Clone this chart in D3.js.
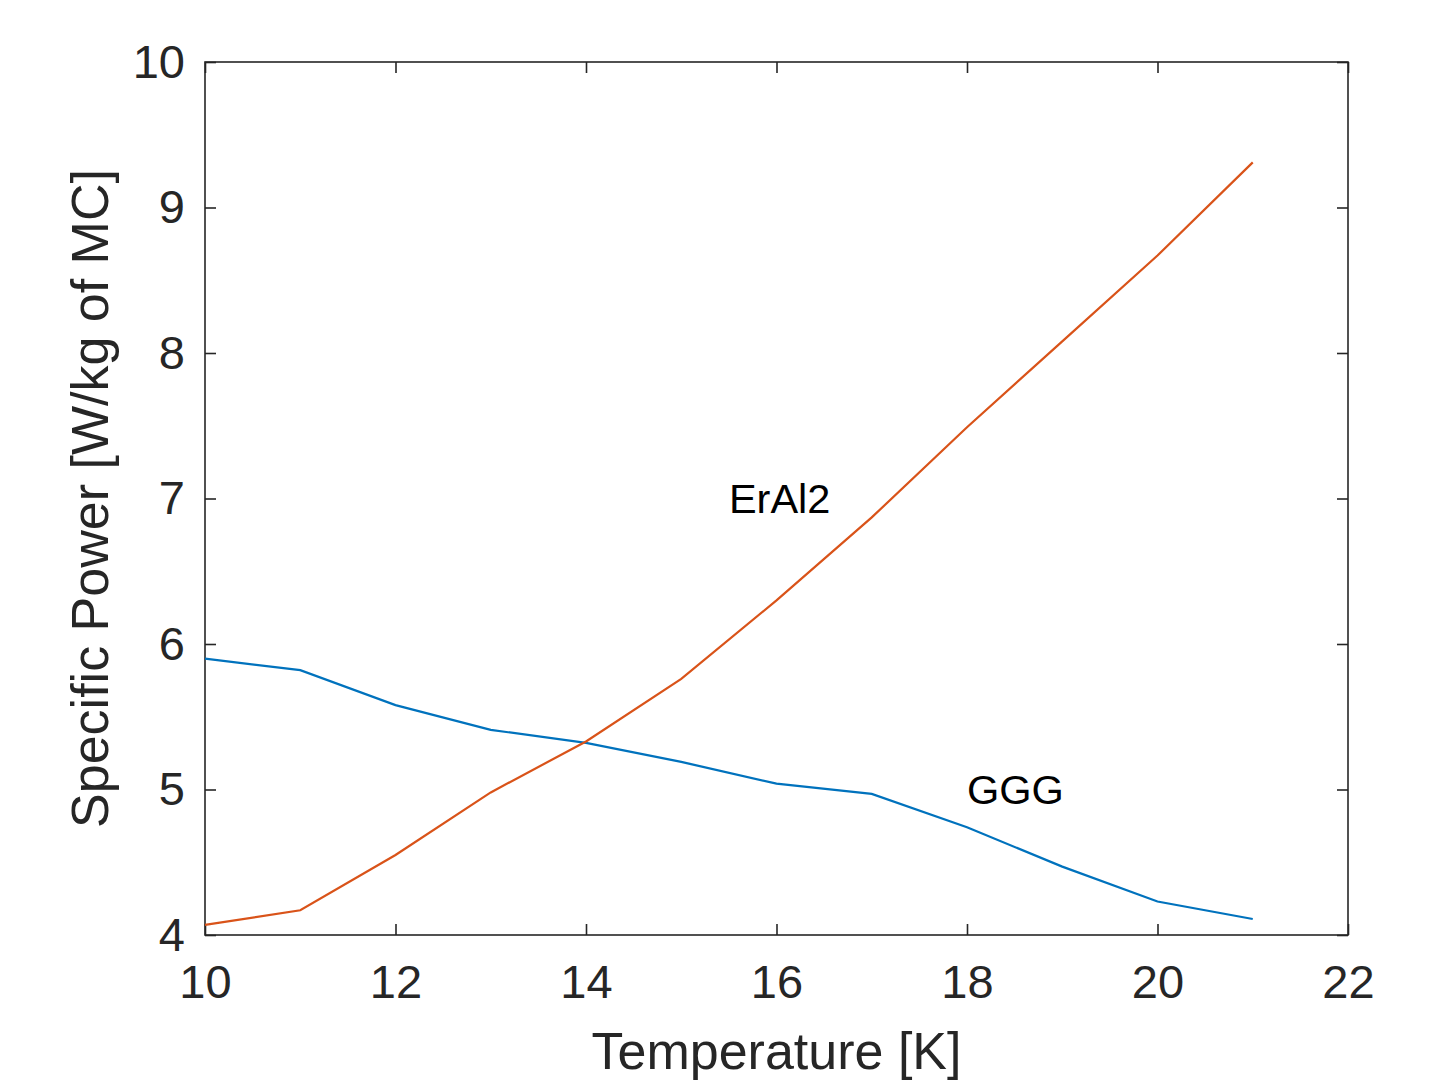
<!DOCTYPE html>
<html>
<head>
<meta charset="utf-8">
<script src="https://cdn.jsdelivr.net/npm/d3@7"></script>
<style>
  body { margin: 0; background: #fff; }
  text { font-family: "Liberation Sans", Arial, Helvetica, sans-serif; fill: #262626; }
</style>
</head>
<body>
<script>
// Data
var temperature = [10, 11, 12, 13, 14, 15, 16, 17, 18, 19, 20, 21];
var erAl2 = [4.07, 4.17, 4.55, 4.98, 5.33, 5.76, 6.30, 6.87, 7.49, 8.08, 8.67, 9.31];
var ggg = [5.90, 5.82, 5.58, 5.41, 5.32, 5.19, 5.04, 4.97, 4.74, 4.47, 4.23, 4.11];
var xTicks = [10, 12, 14, 16, 18, 20, 22];
var yTicks = [4, 5, 6, 7, 8, 9, 10];
var labelNames = ["ErAl2", "GGG"];
var labelX = [15.5, 18];
var labelY = [7, 5];

// Graph dimensions and margins
var margin = {top: 62, right: 97, bottom: 147, left: 205},
    width = 1445 - margin.left - margin.right,
    height = 1082 - margin.top - margin.bottom;

var x = d3.scaleLinear().domain([10, 22]).range([0, width]);
var y = d3.scaleLinear().domain([4, 10]).range([height, 0]);

var svg = d3.select("body").append("svg")
    .attr("width", 1445)
    .attr("height", 1082);

var chart = svg.append("g")
    .attr("transform", "translate(" + margin.left + "," + margin.top + ")");

var axisColor = "#262626";
var tickLen = 11;

// bottom axis with labels, inward ticks
var xAxis = chart.append("g")
    .attr("transform", "translate(0," + height + ")")
    .call(d3.axisBottom(x).tickValues(xTicks).tickSizeInner(-tickLen).tickSizeOuter(0).tickPadding(30).tickFormat(d3.format("d")));
// left axis
var yAxis = chart.append("g")
    .call(d3.axisLeft(y).tickValues(yTicks).tickSizeInner(-tickLen).tickSizeOuter(0).tickPadding(20).tickFormat(d3.format("d")));
// top and right mirror ticks
var xTop = chart.append("g")
    .call(d3.axisTop(x).tickValues(xTicks).tickSizeInner(-tickLen).tickSizeOuter(0).tickFormat(""));
var yRight = chart.append("g")
    .attr("transform", "translate(" + width + ",0)")
    .call(d3.axisRight(y).tickValues(yTicks).tickSizeInner(-tickLen).tickSizeOuter(0).tickFormat(""));

[xAxis, yAxis, xTop, yRight].forEach(function(a) {
  a.select(".domain").remove();
  a.selectAll("line").attr("stroke", axisColor).attr("stroke-width", 1.6);
});
xAxis.selectAll("text").style("font-size", "47px").attr("fill", axisColor).attr("dy", "0.71em");
yAxis.selectAll("text").style("font-size", "47px").attr("fill", axisColor);

// box
chart.append("rect")
    .attr("x", 0).attr("y", 0)
    .attr("width", width).attr("height", height)
    .attr("fill", "none")
    .attr("stroke", axisColor)
    .attr("stroke-width", 1.6);

// lines
var line = d3.line()
    .x(function(d, i) { return x(temperature[i]); })
    .y(function(d) { return y(d); });

chart.append("path")
    .datum(ggg)
    .attr("fill", "none")
    .attr("stroke", "#0072BD")
    .attr("stroke-width", 2.2)
    .attr("d", line);

chart.append("path")
    .datum(erAl2)
    .attr("fill", "none")
    .attr("stroke", "#D95319")
    .attr("stroke-width", 2.2)
    .attr("d", line);

// annotations
chart.selectAll(".note")
    .data(labelNames)
  .enter().append("text")
    .attr("class", "note")
    .attr("x", function(d, i) { return x(labelX[i]); })
    .attr("y", function(d, i) { return y(labelY[i]); })
    .attr("dy", "0.36em")
    .style("font-size", "41.5px")
    .style("fill", "#000")
    .text(function(d) { return d; });

// axis labels
chart.append("text")
    .attr("x", width / 2)
    .attr("y", height + 134)
    .attr("text-anchor", "middle")
    .style("font-size", "52px")
    .text("Temperature [K]");

chart.append("text")
    .attr("transform", "translate(-97," + (height / 2) + ") rotate(-90)")
    .attr("text-anchor", "middle")
    .style("font-size", "52px")
    .text("Specific Power [W/kg of MC]");
</script>
</body>
</html>
